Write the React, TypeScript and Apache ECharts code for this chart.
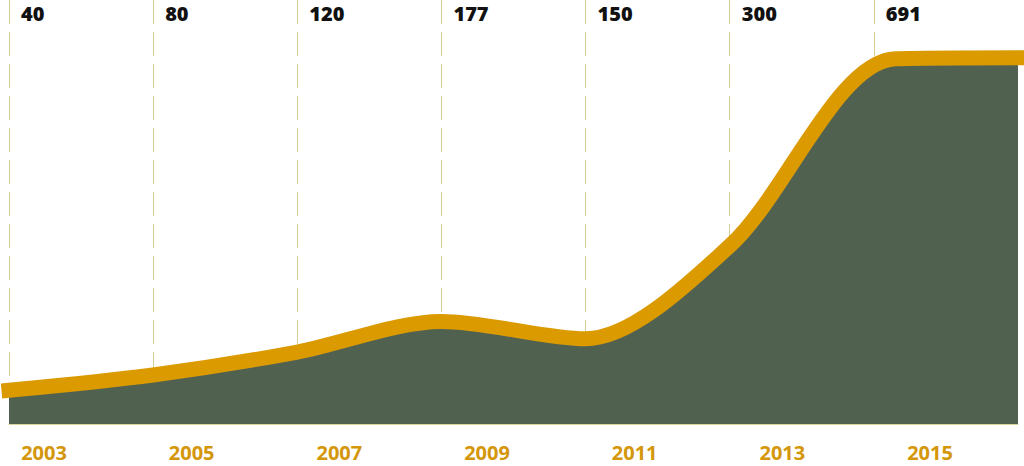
import React, { useEffect, useRef } from "react";
import * as echarts from "echarts";

// Guides and their labels (one per dashed guide line)
const guideLabels = ["40", "80", "120", "177", "150", "300", "691", ""];
// Curve points: position along the guide index scale, and value
const pointPositions = [0, 1, 2, 3, 4, 5, 6.15, 7];
const seriesValues = [39, 69, 114, 174, 140, 322, 689, 691];
const yearLabels = ["2003", "2005", "2007", "2009", "2011", "2013", "2015"];

const ORANGE = "#da9a00";
const AREA = "#516150";
const GUIDE = "#d6cd96";

export default function App() {
  const ref = useRef<HTMLDivElement>(null);
  useEffect(() => {
    if (!ref.current) return;
    const chart = echarts.init(ref.current, undefined, { renderer: "svg" });
    const n = guideLabels.length;
    const data = pointPositions.map((x, i) => [x, seriesValues[i]]);
    chart.setOption({
      animation: false,
      backgroundColor: "#ffffff",
      grid: [
        { left: 9, right: 6, top: 0, bottom: 42 },
        { left: 44, right: 94, top: 0, bottom: 42 },
      ],
      xAxis: [
        {
          gridIndex: 0,
          type: "category",
          data: guideLabels,
          boundaryGap: false,
          position: "top",
          z: 0,
          axisLine: { show: false },
          axisTick: { show: false },
          axisLabel: {
            show: true,
            inside: true,
            interval: 0,
            margin: 13,
            align: "left",
            verticalAlign: "middle",
            padding: [0, 0, 0, 12],
            fontFamily: "'Open Sans', sans-serif",
            fontWeight: 800,
            fontSize: 20,
            color: "#111111",
          },
          splitLine: {
            show: true,
            interval: (i: number) => i < n - 1,
            lineStyle: { color: GUIDE, width: 1, type: [24, 8] },
          },
        },
        {
          gridIndex: 1,
          type: "category",
          data: yearLabels,
          boundaryGap: false,
          position: "bottom",
          axisLine: { show: false },
          axisTick: { show: false },
          splitLine: { show: false },
          axisLabel: {
            show: true,
            interval: 0,
            margin: 28,
            verticalAlign: "middle",
            fontFamily: "'Open Sans', sans-serif",
            fontWeight: "bold",
            fontSize: 20,
            color: "#d4960a",
          },
        },
        {
          gridIndex: 0,
          type: "value",
          min: 0,
          max: n - 1,
          position: "bottom",
          z: 5,
          axisLine: { show: true, onZero: false, lineStyle: { color: "#d8d49a", width: 1 } },
          axisTick: { show: false },
          axisLabel: { show: false },
          splitLine: { show: false },
        },
      ],
      yAxis: [
        { gridIndex: 0, type: "value", min: -27, max: 804, show: false, splitLine: { show: false } },
        { gridIndex: 1, type: "value", min: 0, max: 1, show: false, splitLine: { show: false } },
      ],
      series: [
        {
          type: "line",
          xAxisIndex: 2,
          yAxisIndex: 0,
          data,
          smooth: 0.3,
          showSymbol: false,
          clip: false,
          lineStyle: { color: ORANGE, width: 15, cap: "square" },
          areaStyle: { color: AREA, opacity: 1, origin: "start" },
          z: 2,
        },
      ],
    });
    return () => chart.dispose();
  }, []);
  return (
    <div
      ref={ref}
      style={{ position: "fixed", left: 0, top: 0, width: 1024, height: 466 }}
    />
  );
}
